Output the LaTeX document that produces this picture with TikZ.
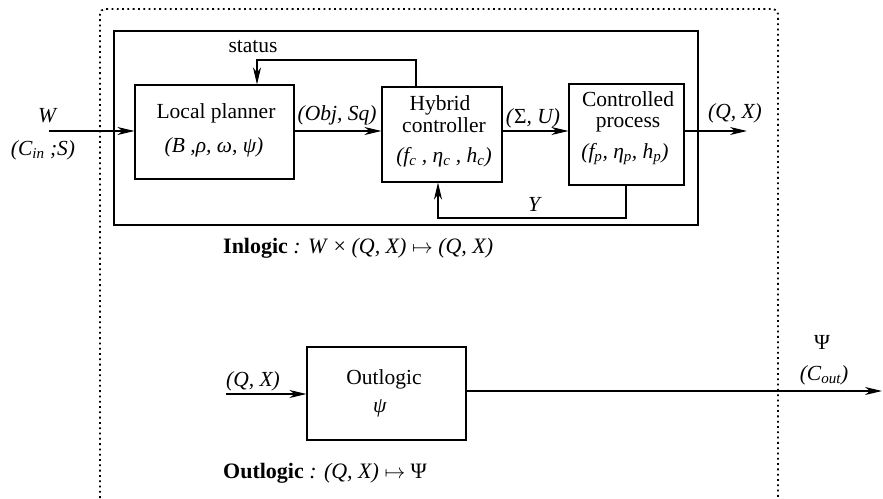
\documentclass[tikz,border=0pt]{standalone}
\usepackage{fontspec}
\setmainfont{Liberation Serif}
\usetikzlibrary{arrows.meta}
\newcommand\mysub[1]{\textsubscript{\textit{#1}}}
\begin{document}
\begin{tikzpicture}[x=1pt,y=-1pt,
  box/.style={draw, line width=1.1pt, inner sep=0pt},
  arr/.style={line width=1.1pt, -{Stealth[length=17pt,width=8pt,inset=5pt]}},
  txt/.style={font=\fontsize{21.5}{23}\selectfont, inner sep=0pt, anchor=base},
  captxt/.style={font=\fontsize{22}{24}\selectfont, inner sep=0pt, anchor=base west}]
\useasboundingbox (0,0) rectangle (883,498);
% outer dotted frame
\draw[line width=1.8pt, dash pattern=on 1.8pt off 3.5pt, rounded corners=5pt]
  (100,498) -- (100,9) -- (778,9) -- (778,498);
% inner solid frame
\node[box, minimum width=584pt, minimum height=194pt] (inbox) at (406,128) {};
% blocks
\node[box, minimum width=159pt, minimum height=94pt] (lp) at (214.5,132) {};
\node[box, minimum width=120pt, minimum height=95pt] (hc) at (442,134.5) {};
\node[box, minimum width=115pt, minimum height=101pt] (cp) at (626.5,134.5) {};
\node[box, minimum width=159pt, minimum height=93pt] (ol) at (386.5,393.5) {};
% block texts
\node[txt] (lpt) at (216,118) {Local planner};
\node[txt] (lpp) at (214,152) {\textit{(B ,ρ, ω, ψ)}};
\node[txt] (hct1) at (440,110) {Hybrid};
\node[txt] (hct2) at (444,132) {controller};
\node[txt] (hcp) at (444,162) {\textit{(f\mysub{c} , η\mysub{c} , h\mysub{c})}};
\node[txt] (cpt1) at (628,106) {Controlled};
\node[txt] (cpt2) at (628,127) {process};
\node[txt] (cpp) at (625,158) {\textit{(f\mysub{p}, η\mysub{p}, h\mysub{p})}};
\node[txt] (olt) at (384,384) {Outlogic};
\node[txt] (olp) at (380,412) {\textit{ψ}};
% coordinates
\coordinate (win) at (49,131);
\coordinate (out) at (747,131);
\coordinate (s1) at (416,60);
\coordinate (s2) at (257,60);
\coordinate (y1) at (626,218);
\coordinate (y2) at (438,218);
\coordinate (oin) at (226,394);
\coordinate (oout) at (882,391);
% connectors
\draw[arr] (win) -- (win -| lp.west);
\draw[arr] (lp.east |- win) -- (hc.west |- win);
\draw[arr] (hc.east |- win) -- (cp.west |- win);
\draw[arr] (cp.east |- win) -- (out);
\draw[arr] (hc.north -| s1) -- (s1) -- (s2) -- (s2 |- lp.north);
\draw[arr] (cp.south -| y1) -- (y1) -- (y2) -- (y2 |- hc.south);
\draw[arr] (oin) -- (oin -| ol.west);
\draw[arr] (ol.east |- oout) -- (oout);
% labels
\node[txt] (lw) at (48,122) {\textit{W}};
\node[txt] (lcin) at (43,155) {\textit{(C\mysub{in} ;S)}};
\node[txt] (lstat) at (253,52) {status};
\node[txt] (lobj) at (337,120) {\textit{(Obj, Sq)}};
\node[txt] (lsu) at (533,123) {\textit{(}Σ\textit{, U)}};
\node[txt] (lqx) at (735,118) {\textit{(Q, X)}};
\node[txt] (ly) at (535,211) {\textit{Y}};
\node[txt] (lqx2) at (253,386) {\textit{(Q, X)}};
\node[txt] (lpsi) at (822,349) {Ψ};
\node[txt] (lcout) at (824,380) {\textit{(C\mysub{out})}};
\node[captxt] (capin) at (223,253) {\textbf{Inlogic} \textit{: W} × \textit{(Q, X)} $\mapsto$ \textit{(Q, X)}};
\node[captxt] (capout) at (223,478) {\textbf{Outlogic} \textit{: (Q, X)} $\mapsto$ Ψ};
\end{tikzpicture}
\end{document}
